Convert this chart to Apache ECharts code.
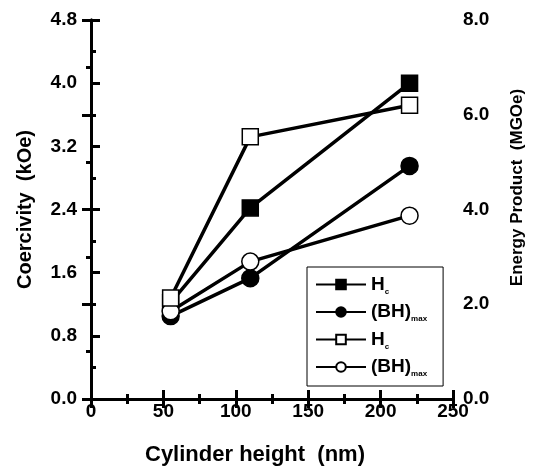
<!DOCTYPE html>
<html>
<head>
<meta charset="utf-8">
<script src="https://cdn.jsdelivr.net/npm/echarts@6/dist/echarts.min.js"></script>
<style>
html,body{margin:0;padding:0;background:#fff;}
#chart{width:538px;height:471px;}
</style>
</head>
<body>
<div id="chart"></div>
<script>
const heights = [55, 110, 220];
const hcFilled = [1.22, 2.42, 4.0];
const bhFilled = [1.75, 2.55, 4.92];
const hcOpen = [1.28, 3.32, 3.72];
const bhOpen = [1.85, 2.9, 3.87];
const seriesNames = ['Hc1', 'BH1', 'Hc2', 'BH2'];
const legendLabels = {Hc1: 'H{sub|c}', BH1: '(BH){sub|max}', Hc2: 'H{sub|c}', BH2: '(BH){sub|max}'};

const FONT = 'Liberation Sans, Arial, sans-serif';
const chart = echarts.init(document.getElementById('chart'));

function pairs(vals) { return heights.map((h, i) => [h, vals[i]]); }

const axisCommon = {
  axisLine: {show: true, lineStyle: {color: '#000', width: 3}},
  axisTick: {show: true, inside: false, length: -9, lineStyle: {color: '#000', width: 3}},
  minorTick: {show: true, splitNumber: 2, length: -5, lineStyle: {color: '#000', width: 3}},
  splitLine: {show: false},
  minorSplitLine: {show: false},
  axisLabel: {color: '#000', fontSize: 19, fontFamily: FONT, fontWeight: 'bold'},
  nameTextStyle: {color: '#000', fontSize: 20, fontFamily: FONT, fontWeight: 'bold'}
};

function mk(name, data, yIdx, symbol, filled, z) {
  return {
    name: name, type: 'line', data: pairs(data), yAxisIndex: yIdx, xAxisIndex: 0,
    symbol: symbol, symbolSize: symbol === 'rect' ? 16 : 17,
    lineStyle: {color: '#000', width: 3.5},
    itemStyle: {color: filled ? '#000' : '#fff', borderColor: '#000', borderWidth: 1.5},
    z: z
  };
}

chart.setOption({
  animation: false,
  backgroundColor: '#fff',
  grid: {left: 91, right: 85, top: 20, bottom: 69},
  xAxis: [
    Object.assign({}, axisCommon, {
      type: 'value', position: 'bottom', min: 0, max: 250, interval: 50,
      name: 'Cylinder height  (nm)', nameLocation: 'middle', nameGap: 45,
      nameTextStyle: Object.assign({}, axisCommon.nameTextStyle, {fontSize: 22, padding: [0, 34, 0, 0]}),
      axisLabel: Object.assign({}, axisCommon.axisLabel, {margin: 3})
    }),
    Object.assign({}, axisCommon, {
      type: 'value', position: 'top', min: 0, max: 250, interval: 50,
      axisLabel: {show: false}
    })
  ],
  yAxis: [
    Object.assign({}, axisCommon, {
      type: 'value', position: 'left', min: 0, max: 4.8, interval: 0.8,
      name: 'Coercivity  (kOe)', nameLocation: 'middle', nameGap: 56,
      axisLabel: Object.assign({}, axisCommon.axisLabel, {margin: 14, formatter: v => v.toFixed(1)})
    }),
    Object.assign({}, axisCommon, {
      type: 'value', position: 'right', min: 0, max: 8, interval: 2,
      name: 'Energy Product  (MGOe)', nameLocation: 'middle', nameGap: 56, nameRotate: 90,
      nameTextStyle: Object.assign({}, axisCommon.nameTextStyle, {fontSize: 17, padding: [0, 0, 0, 44]}),
      axisLabel: Object.assign({}, axisCommon.axisLabel, {margin: 10, formatter: v => v.toFixed(1)})
    })
  ],
  legend: {
    orient: 'vertical', left: 307, top: 267,
    data: seriesNames,
    backgroundColor: '#fff', borderColor: '#000', borderWidth: 1,
    padding: [8, 16, 8, 8], itemGap: 7, itemWidth: 50, itemHeight: 12,
    formatter: n => legendLabels[n],
    textStyle: {
      color: '#000', fontSize: 19, fontFamily: FONT, fontWeight: 'bold',
      rich: {sub: {fontSize: 8, fontFamily: FONT, fontWeight: 'bold', padding: [14, 0, 0, 0], color: '#000'}}
    }
  },
  series: [
    mk('Hc1', hcFilled, 0, 'rect', true, 2),
    mk('BH1', bhFilled, 1, 'circle', true, 3),
    mk('BH2', bhOpen, 1, 'circle', false, 4),
    mk('Hc2', hcOpen, 0, 'rect', false, 5)
  ]
});
</script>
</body>
</html>
